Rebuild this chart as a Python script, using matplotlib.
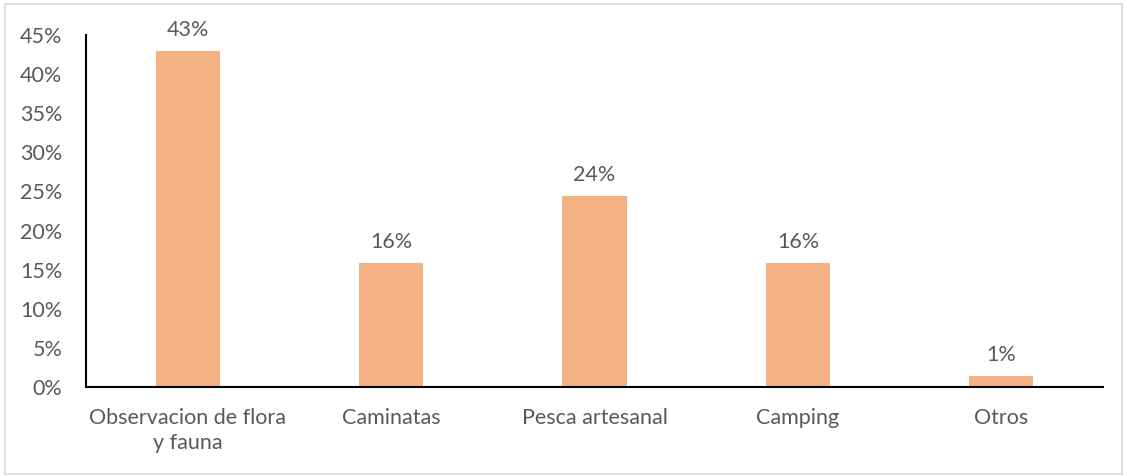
import matplotlib.pyplot as plt
from matplotlib.patches import Rectangle

categories = ['Observacion de flora\ny fauna', 'Caminatas', 'Pesca artesanal', 'Camping', 'Otros']
values = [0.43, 0.158, 0.244, 0.158, 0.014]
labels = ['43%', '16%', '24%', '16%', '1%']
yticks = [0, 0.05, 0.10, 0.15, 0.20, 0.25, 0.30, 0.35, 0.40, 0.45]

plt.rcParams['font.family'] = ['Lato', 'DejaVu Sans']
txt = '#595959'
fs = 15.5

fig = plt.figure(figsize=(11.27, 4.76), dpi=100)
fig.patches.append(Rectangle((0.004, 0.004), 0.992, 0.988, transform=fig.transFigure,
                             fill=False, edgecolor='#d9d9d9', linewidth=1.2))
ax = fig.add_axes([0.0763, 0.187, 0.9024, 0.7395])

x = range(len(categories))
bars = ax.bar(x, values, width=0.315, color='#F4B183')
for b, lab in zip(bars, labels):
    ax.annotate(lab, (b.get_x() + b.get_width() / 2, b.get_height()),
                xytext=(0, 8), textcoords='offset points', ha='center', va='bottom',
                fontsize=fs, color=txt)

ax.set_xlim(-0.5, len(categories) - 0.5)
ax.set_ylim(0, 0.45)
ax.set_yticks(yticks)
ax.set_yticklabels(['%d%%' % round(v * 100) for v in yticks])
ax.set_xticks(list(x))
ax.set_xticklabels(categories, linespacing=1.3)
ax.tick_params(length=0, labelsize=fs, labelcolor=txt)
ax.tick_params(axis='y', pad=17)
ax.tick_params(axis='x', pad=15)
for s in ['top', 'right']:
    ax.spines[s].set_visible(False)
for s in ['left', 'bottom']:
    ax.spines[s].set_linewidth(1.5)
    ax.spines[s].set_color('black')

fig.savefig('out.png', dpi=100)
